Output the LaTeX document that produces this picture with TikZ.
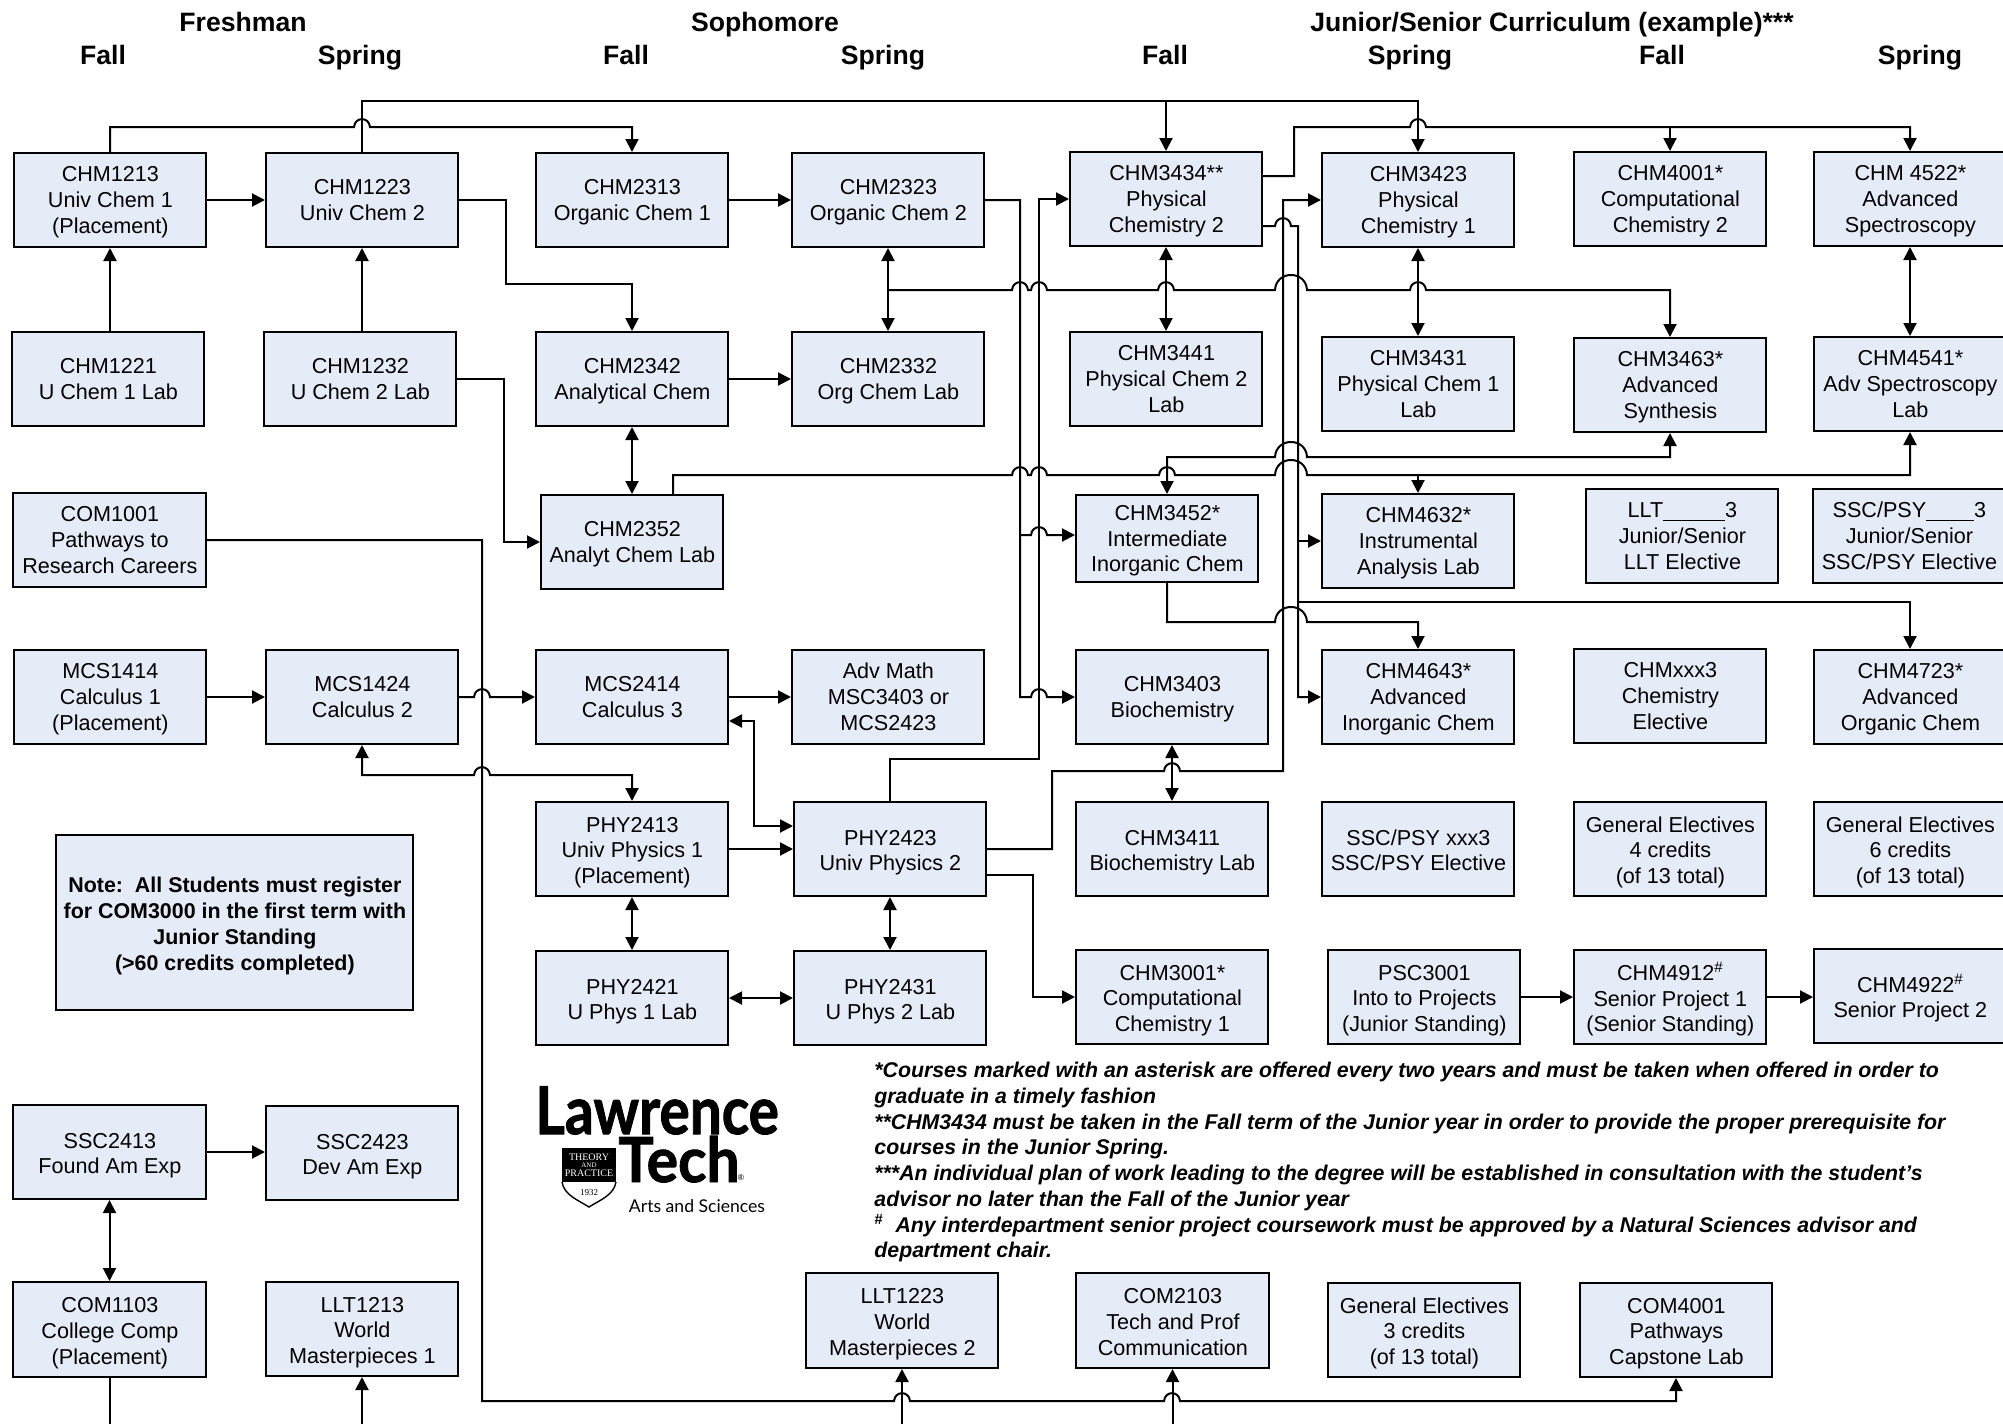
\documentclass[tikz,border=0pt]{standalone}
\usepackage{fontspec}
\setmainfont{Liberation Sans}
\newfontfamily\logofont[BoldFeatures={FakeBold=1.5}]{Lato}
\newfontfamily\logosmall{Lato}
\newfontfamily\shieldfont{Liberation Serif}
\usetikzlibrary{arrows.meta}
\definecolor{boxfill}{HTML}{E6ECF7}
\tikzset{
  box/.style={draw=black,fill=boxfill,line width=1pt,inner sep=0pt,
    font=\fontsize{10.8}{12.85}\selectfont},
  head/.style={inner sep=0pt,anchor=base,font=\fontsize{13.3}{15}\bfseries\selectfont},
  wire/.style={draw=black,line width=1pt,line join=miter},
  arr/.style={-{Triangle[length=6.5pt,width=6.5pt]}},
  dbl/.style={{Triangle[length=6.5pt,width=6.5pt]}-{Triangle[length=6.5pt,width=6.5pt]}}
}
\newcommand{\drop}{-1.2pt}
\newcommand{\cb}[6]{\node[box,minimum width={(#4-#2)*0.5pt},minimum height={(#5-#3)*0.5pt}] (#1) at ({(#2+#4)/2},{(#3+#5)/2}) {\hspace*{0.4pt}\raisebox{\drop}[\height][\depth]{\begin{tabular}{@{}c@{}}#6\end{tabular}}};}
\newcommand{\hj}[2]{-- (#1-8,#2) .. controls (#1-7,#2-10.5) and (#1+7,#2-10.5) .. (#1+8,#2)}
\newcommand{\bhj}[2]{-- (#1-16,#2) .. controls (#1-15,#2-20) and (#1+15,#2-20) .. (#1+16,#2)}
\begin{document}
\begin{tikzpicture}[x=0.5pt,y=-0.5pt]
\useasboundingbox (0,0) rectangle (2003,1424);
\clip (0,0) rectangle (2003,1424);
% headers
\node[head] (hFresh) at (243,32) {Freshman};
\node[head] (hSoph) at (765,32) {Sophomore};
\node[head] (hJun) at (1552,32) {Junior/Senior Curriculum (example)***};
\node[head] (h1) at (103,64) {Fall};
\node[head] (h2) at (360,64) {Spring};
\node[head] (h3) at (626,64) {Fall};
\node[head] (h4) at (883,64) {Spring};
\node[head] (h5) at (1165,64) {Fall};
\node[head] (h6) at (1410,64) {Spring};
\node[head] (h7) at (1662,64) {Fall};
\node[head] (h8) at (1920,64) {Spring};
% row 1
\cb{CHM1213}{14}{153}{206}{247}{CHM1213\\Univ Chem 1\\(Placement)}
\cb{CHM1223}{266}{153}{458}{247}{CHM1223\\Univ Chem 2}
\cb{CHM2313}{536}{153}{728}{247}{CHM2313\\Organic Chem 1}
\cb{CHM2323}{792}{153}{984}{247}{CHM2323\\Organic Chem 2}
\cb{CHM3434}{1070}{152}{1262}{246}{CHM3434**\\Physical\\Chemistry 2}
\cb{CHM3423}{1322}{153}{1514}{247}{CHM3423\\Physical\\Chemistry 1}
\cb{CHM4001}{1574}{152}{1766}{246}{CHM4001*\\Computational\\Chemistry 2}
\cb{CHM4522}{1814}{152}{2006}{246}{CHM 4522*\\Advanced\\Spectroscopy}
% row 2
\cb{CHM1221}{12}{332}{204}{426}{CHM1221\\U Chem 1 Lab}
\cb{CHM1232}{264}{332}{456}{426}{CHM1232\\U Chem 2 Lab}
\cb{CHM2342}{536}{332}{728}{426}{CHM2342\\Analytical Chem}
\cb{CHM2332}{792}{332}{984}{426}{CHM2332\\Org Chem Lab}
\cb{CHM3441}{1070}{332}{1262}{426}{CHM3441\\Physical Chem 2\\Lab}
\cb{CHM3431}{1322}{337}{1514}{431}{CHM3431\\Physical Chem 1\\Lab}
\cb{CHM3463}{1574}{338}{1766}{432}{CHM3463*\\Advanced\\Synthesis}
\cb{CHM4541}{1814}{337}{2006}{431}{CHM4541*\\Adv Spectroscopy\\Lab}
% row 3
\cb{COM1001}{13}{493}{206}{587}{COM1001\\Pathways to\\Research Careers}
\cb{CHM2352}{541}{495}{723}{589}{CHM2352\\Analyt Chem Lab}
\cb{CHM3452}{1076}{495}{1258}{582}{CHM3452*\\Intermediate\\Inorganic Chem}
\cb{CHM4632}{1322}{494}{1514}{588}{CHM4632*\\Instrumental\\Analysis Lab}
\cb{LLT3}{1586}{489}{1778}{583}{LLT\rule[-1.5pt]{31pt}{0.5pt}3\\Junior/Senior\\LLT Elective}
\cb{SSCPSY3}{1813}{489}{2005}{583}{SSC/PSY\rule[-1.5pt]{24pt}{0.5pt}3\\Junior/Senior\\SSC/PSY Elective}
% row 4
\cb{MCS1414}{14}{650}{206}{744}{MCS1414\\Calculus 1\\(Placement)}
\cb{MCS1424}{266}{650}{458}{744}{MCS1424\\Calculus 2}
\cb{MCS2414}{536}{650}{728}{744}{MCS2414\\Calculus 3}
\cb{AdvMath}{792}{650}{984}{744}{Adv Math\\MSC3403 or\\MCS2423}
\cb{CHM3403}{1076}{650}{1268}{744}{CHM3403\\Biochemistry}
\cb{CHM4643}{1322}{650}{1514}{744}{CHM4643*\\Advanced\\Inorganic Chem}
\cb{CHMxxx3}{1574}{649}{1766}{743}{CHMxxx3\\Chemistry\\Elective}
\cb{CHM4723}{1814}{650}{2006}{744}{CHM4723*\\Advanced\\Organic Chem}
% row 5
\renewcommand{\drop}{-1.9pt}
\cb{PHY2413}{536}{802}{728}{896}{PHY2413\\Univ Physics 1\\(Placement)}
\cb{PHY2423}{794}{802}{986}{896}{PHY2423\\Univ Physics 2}
\cb{CHM3411}{1076}{802}{1268}{896}{CHM3411\\Biochemistry Lab}
\cb{SSCPSYxxx3}{1322}{802}{1514}{896}{SSC/PSY xxx3\\SSC/PSY Elective}
\cb{GE4}{1574}{802}{1766}{896}{General Electives\\4 credits\\(of 13 total)}
\cb{GE6}{1814}{802}{2006}{896}{General Electives\\6 credits\\(of 13 total)}
% row 6
\cb{PHY2421}{536}{951}{728}{1045}{PHY2421\\U Phys 1 Lab}
\cb{PHY2431}{794}{951}{986}{1045}{PHY2431\\U Phys 2 Lab}
\cb{CHM3001}{1076}{950}{1268}{1044}{CHM3001*\\Computational\\Chemistry 1}
\cb{PSC3001}{1328}{950}{1520}{1044}{PSC3001\\Into to Projects\\(Junior Standing)}
\cb{CHM4912}{1574}{950}{1766}{1044}{CHM4912\textsuperscript{\#}\\Senior Project 1\\(Senior Standing)}
\cb{CHM4922}{1814}{949}{2006}{1043}{CHM4922\textsuperscript{\#}\\Senior Project 2}
% note
\cb{Note}{56}{835}{413}{1010}{\fontsize{10.7}{12.85}\selectfont\bfseries Note:\ \ All Students must register\\\fontsize{10.7}{12.85}\selectfont\bfseries for COM3000 in the first term with\\\fontsize{10.7}{12.85}\selectfont\bfseries Junior Standing\\\fontsize{10.7}{12.85}\selectfont\bfseries (>60 credits completed)}
% lower left
\cb{SSC2413}{13}{1105}{206}{1199}{SSC2413\\Found Am Exp}
\cb{SSC2423}{266}{1106}{458}{1200}{SSC2423\\Dev Am Exp}
\cb{COM1103}{13}{1282}{206}{1377}{COM1103\\College Comp\\(Placement)}
\cb{LLT1213}{266}{1282}{458}{1376}{LLT1213\\World\\Masterpieces 1}
% bottom row
\cb{LLT1223}{806}{1273}{998}{1368}{LLT1223\\World\\Masterpieces 2}
\cb{COM2103}{1076}{1273}{1269}{1368}{COM2103\\Tech and Prof\\Communication}
\cb{GE3}{1328}{1283}{1520}{1377}{General Electives\\3 credits\\(of 13 total)}
\cb{COM4001}{1580}{1283}{1772}{1377}{COM4001\\Pathways\\Capstone Lab}
% footnotes
\node[anchor=north west,inner sep=0pt,align=left,font=\fontsize{10.65}{12.85}\bfseries\itshape\selectfont] (notes) at (874,1062) {*Courses marked with an asterisk are offered every two years and must be taken when offered in order to\\
graduate in a timely fashion\\
**CHM3434 must be taken in the Fall term of the Junior year in order to provide the proper prerequisite for\\
courses in the Junior Spring.\\
***An individual plan of work leading to the degree will be established in consultation with the student’s\\
advisor no later than the Fall of the Junior year\\
\textsuperscript{\#}\ \ Any interdepartment senior project coursework must be approved by a Natural Sciences advisor and\\
department chair.};
% logo
\node[anchor=base west,inner sep=0pt,font=\logofont\bfseries\fontsize{33}{33}\selectfont] (logoA) at (535,1134) {\scalebox{0.86}[1]{Lawrence}};
\node[anchor=base west,inner sep=0pt,font=\logofont\bfseries\fontsize{31}{31}\selectfont] (logoB) at (618,1182) {\scalebox{0.95}[1]{Tech}};
\node[inner sep=0pt,font=\logosmall\fontsize{4}{4}\selectfont] (logoR) at (741,1178) {®};
\node[inner sep=0pt,font=\logosmall\fontsize{8.8}{9}\selectfont] (logoC) at (697,1206) {Arts and Sciences};
\fill[black] (562,1148) rectangle (616,1182);
\draw[black,line width=0.7pt] (562,1182) .. controls (564,1195) and (578,1200) .. (589,1207) .. controls (600,1200) and (614,1195) .. (616,1182);
\node[inner sep=0pt,text=white,font=\shieldfont\fontsize{5}{5}\selectfont] (logoS1) at (589,1157) {THEORY};
\node[inner sep=0pt,text=white,font=\shieldfont\fontsize{3.5}{3.5}\selectfont] (logoS2) at (589,1165) {AND};
\node[inner sep=0pt,text=white,font=\shieldfont\fontsize{5}{5}\selectfont] (logoS3) at (589,1173) {PRACTICE};
\node[inner sep=0pt,font=\shieldfont\fontsize{4.5}{4.5}\selectfont] (logoS4) at (589,1193) {1932};
% connectors
\coordinate (bot) at (0,1430);
\draw[wire,arr] (CHM1213.north) -- (110,127) \hj{362}{127} -| (CHM2313.north);
\draw[wire,arr] (CHM1223.north) |- (CHM3423.north |- 0,101) -- (CHM3423.north);
\draw[wire,arr] (CHM3434.north |- 0,101) -- (CHM3434.north);
\draw[wire,arr] (CHM3434.east |- 0,176) -- (1294,176) -- (1294,127) \hj{1418}{127} -| (CHM4522.north);
\draw[wire,arr] (CHM4001.north |- 0,127) -- (CHM4001.north);
\draw[wire,arr] (CHM1213.east) -- (CHM1223.west);
\draw[wire,arr] (CHM1221.north -| CHM1213.north) -- (CHM1213.south);
\draw[wire,arr] (CHM1232.north -| CHM1223.north) -- (CHM1223.south);
\draw[wire,arr] (CHM1223.east) -- (506,200) |- (632,284) -- (CHM2342.north);
\draw[wire,arr] (CHM2313.east) -- (CHM2323.west);
\draw[wire,arr] (CHM2342.east) -- (CHM2332.west);
\draw[wire,dbl] (CHM2323.south) -- (CHM2332.north);
\draw[wire,arr] (CHM2323.south |- 0,290) \hj{1020}{290} \hj{1039}{290} \hj{1166}{290} \bhj{1291}{290} \hj{1418}{290} -| (CHM3463.north);
\draw[wire,dbl] (CHM3434.south) -- (CHM3441.north);
\draw[wire,dbl] (CHM3423.south) -- (CHM3431.north);
\draw[wire,dbl] (CHM4522.south) -- (CHM4541.north);
\draw[wire,arr] (CHM2323.east) -- (1020,200) -- (1020,697) \hj{1039}{697} -- (CHM3403.west);
\draw[wire,arr] (1020,535) \hj{1039}{535} -- (CHM3452.west |- 0,535);
\draw[wire,arr] (PHY2423.north) |- (1039,759) -- (1039,199) -- (CHM3434.west);
\draw[wire,arr] (PHY2423.east) -- (1052,849) -- (1052,771) \hj{1172}{771} -- (1283,771) -- (1283,200) -- (CHM3423.west);
\draw[wire,arr] (CHM3434.east |- 0,226) \hj{1283}{226} -- (1298,226) -- (1298,697) -- (CHM4643.west);
\draw[wire,arr] (1298,541) -- (CHM4632.west);
\draw[wire,arr] (1298,602) -| (CHM4723.north);
\draw[wire,dbl] (CHM3452.north) -- (1167,457) \bhj{1291}{457} -| (CHM3463.south);
\draw[wire,arr] (CHM2352.north -| 673,0) -- (673,475) \hj{1020}{475} \hj{1039}{475} \hj{1167}{475} \bhj{1291}{475} -| (CHM4541.south);
\draw[wire,arr] (CHM4632.north |- 0,475) -- (CHM4632.north);
\draw[wire,arr] (CHM3452.south) -- (1167,622) \bhj{1291}{622} -| (CHM4643.north);
\draw[wire,dbl] (CHM2342.south) -- (CHM2352.north);
\draw[wire,arr] (CHM1232.east) -- (504,379) |- (CHM2352.west);
\draw[wire,arr] (COM1001.east) -- (482,540) -- (482,1401) \hj{902}{1401} \hj{1172}{1401} -| (COM4001.south);
\draw[wire,arr] (LLT1223.south |- bot) -- (LLT1223.south);
\draw[wire,arr] (COM2103.south |- bot) -- (COM2103.south);
\draw[wire,arr] (LLT1213.south |- bot) -- (LLT1213.south);
\draw[wire] (COM1103.south) -- (COM1103.south |- bot);
\draw[wire,arr] (MCS1414.east) -- (MCS1424.west);
\draw[wire,arr] (MCS1424.east) \hj{482}{697} -- (MCS2414.west);
\draw[wire,arr] (MCS2414.east) -- (AdvMath.west);
\draw[wire,dbl] (MCS1424.south) -- (362,775) \hj{482}{775} -| (PHY2413.north);
\draw[wire,dbl] (MCS2414.east |- 0,721) -- (754,721) |- (PHY2423.west |- 0,826);
\draw[wire,arr] (PHY2413.east) -- (PHY2423.west);
\draw[wire,arr] (PHY2423.east |- 0,875) -- (1033,875) |- (CHM3001.west);
\draw[wire,dbl] (PHY2413.south) -- (PHY2421.north);
\draw[wire,dbl] (PHY2423.south) -- (PHY2431.north);
\draw[wire,dbl] (PHY2421.east) -- (PHY2431.west);
\draw[wire,dbl] (CHM3403.south) -- (CHM3411.north);
\draw[wire,arr] (PSC3001.east) -- (CHM4912.west);
\draw[wire,arr] (CHM4912.east) -- (CHM4922.west |- CHM4912.east);
\draw[wire,arr] (SSC2413.east) -- (SSC2423.west |- SSC2413.east);
\draw[wire,dbl] (SSC2413.south) -- (COM1103.north);
\end{tikzpicture}
\end{document}
